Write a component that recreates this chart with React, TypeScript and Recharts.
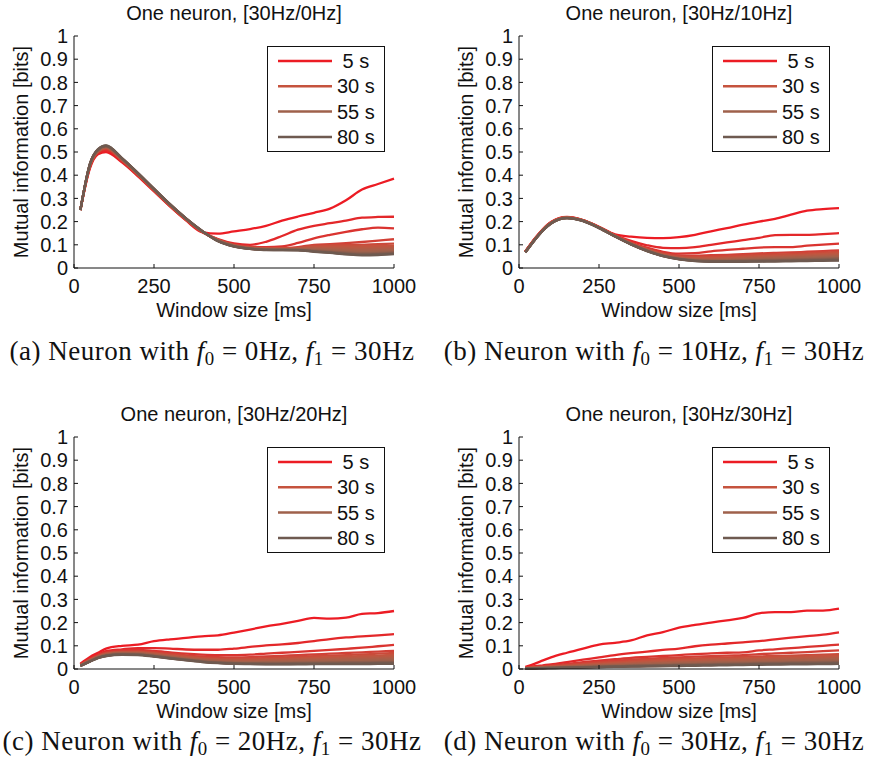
// Four panels of mutual information vs. window size, one line per recording duration.
// MATLAB-style axes (left/bottom only, inward ticks), boxed legend in the top-right corner.

import { Label, Legend, Line, LineChart, XAxis, YAxis } from "recharts";

const windowMs = [20, 50, 75, 100, 150, 200, 250, 300, 350, 400, 450, 500, 550, 600, 650, 700, 750, 800, 850, 900, 950, 1000];
const durations = [5, 10, 15, 20, 25, 30, 35, 40, 45, 50, 55, 60, 65, 70, 75, 80];
const durationColors = [
  "#ec1c24", "#e3282a", "#da3430", "#d24036", "#cb4a3a", "#c5533e", "#bc5842", "#b45b45",
  "#ac5e48", "#a5604a", "#9f614b", "#935f4d", "#885d4e", "#7e5c4f", "#765b50", "#6e5a50",
];
const legendIdx = [0, 5, 10, 15];
const legendLabels = [" 5 s", "30 s", "55 s", "80 s"];
const yTicks = [0, 0.1, 0.2, 0.3, 0.4, 0.5, 0.6, 0.7, 0.8, 0.9, 1];
const xTicks = [0, 250, 500, 750, 1000];
const f0Values = [0, 10, 20, 30];
const f1Value = 30;
const captionLetters = ["a", "b", "c", "d"];

// f0 = 0Hz
const miF0_0 = [
  [0.25, 0.43, 0.49, 0.5, 0.455, 0.395, 0.33, 0.265, 0.205, 0.155, 0.148, 0.158, 0.168, 0.182, 0.204, 0.222, 0.238, 0.256, 0.292, 0.338, 0.362, 0.385],
  [0.25, 0.435, 0.495, 0.508, 0.46, 0.398, 0.333, 0.267, 0.207, 0.155, 0.125, 0.106, 0.1, 0.113, 0.138, 0.165, 0.182, 0.193, 0.204, 0.217, 0.22, 0.221],
  [0.25, 0.438, 0.498, 0.512, 0.462, 0.4, 0.334, 0.268, 0.208, 0.156, 0.123, 0.102, 0.092, 0.09, 0.093, 0.108, 0.128, 0.143, 0.156, 0.167, 0.174, 0.171],
  [0.25, 0.44, 0.5, 0.515, 0.464, 0.401, 0.335, 0.269, 0.209, 0.156, 0.122, 0.1, 0.09, 0.086, 0.086, 0.09, 0.1, 0.103, 0.107, 0.112, 0.118, 0.124],
  [0.25, 0.441, 0.501, 0.517, 0.465, 0.402, 0.336, 0.27, 0.21, 0.157, 0.121, 0.099, 0.089, 0.085, 0.084, 0.087, 0.096, 0.098, 0.099, 0.1, 0.103, 0.105],
  [0.25, 0.442, 0.502, 0.518, 0.466, 0.403, 0.337, 0.27, 0.21, 0.157, 0.12, 0.098, 0.088, 0.084, 0.083, 0.085, 0.092, 0.093, 0.093, 0.094, 0.094, 0.095],
  [0.25, 0.443, 0.503, 0.519, 0.467, 0.404, 0.337, 0.271, 0.211, 0.158, 0.12, 0.097, 0.087, 0.083, 0.082, 0.084, 0.088, 0.088, 0.088, 0.088, 0.088, 0.089],
  [0.25, 0.444, 0.504, 0.52, 0.468, 0.405, 0.338, 0.271, 0.211, 0.158, 0.119, 0.096, 0.086, 0.082, 0.081, 0.082, 0.085, 0.084, 0.083, 0.082, 0.083, 0.084],
  [0.25, 0.445, 0.505, 0.521, 0.469, 0.406, 0.338, 0.272, 0.212, 0.158, 0.119, 0.096, 0.085, 0.081, 0.08, 0.081, 0.082, 0.08, 0.078, 0.077, 0.078, 0.079],
  [0.25, 0.446, 0.506, 0.522, 0.47, 0.406, 0.339, 0.272, 0.212, 0.159, 0.118, 0.095, 0.085, 0.08, 0.08, 0.08, 0.079, 0.077, 0.074, 0.072, 0.073, 0.075],
  [0.25, 0.447, 0.507, 0.523, 0.47, 0.407, 0.339, 0.273, 0.213, 0.159, 0.118, 0.095, 0.084, 0.08, 0.079, 0.079, 0.077, 0.074, 0.07, 0.068, 0.069, 0.071],
  [0.25, 0.448, 0.508, 0.524, 0.471, 0.407, 0.34, 0.273, 0.213, 0.159, 0.117, 0.094, 0.084, 0.079, 0.079, 0.078, 0.075, 0.071, 0.067, 0.064, 0.065, 0.068],
  [0.25, 0.449, 0.509, 0.525, 0.472, 0.408, 0.34, 0.274, 0.213, 0.16, 0.117, 0.094, 0.083, 0.079, 0.078, 0.078, 0.073, 0.069, 0.064, 0.061, 0.062, 0.065],
  [0.25, 0.45, 0.51, 0.526, 0.472, 0.408, 0.341, 0.274, 0.214, 0.16, 0.116, 0.093, 0.083, 0.078, 0.078, 0.077, 0.072, 0.067, 0.062, 0.059, 0.06, 0.063],
  [0.25, 0.45, 0.511, 0.527, 0.473, 0.409, 0.341, 0.275, 0.214, 0.16, 0.116, 0.093, 0.082, 0.078, 0.077, 0.077, 0.071, 0.066, 0.06, 0.057, 0.058, 0.061],
  [0.25, 0.45, 0.512, 0.528, 0.474, 0.409, 0.342, 0.275, 0.214, 0.161, 0.115, 0.092, 0.082, 0.077, 0.077, 0.076, 0.07, 0.065, 0.059, 0.055, 0.056, 0.06],
];

// f0 = 10Hz
const miF0_10 = [
  [0.072, 0.128, 0.168, 0.198, 0.22, 0.207, 0.178, 0.145, 0.135, 0.13, 0.129, 0.133, 0.143, 0.158, 0.172, 0.187, 0.2, 0.212, 0.23, 0.247, 0.254, 0.258],
  [0.071, 0.127, 0.167, 0.197, 0.219, 0.206, 0.177, 0.142, 0.117, 0.098, 0.087, 0.086, 0.09, 0.1, 0.11, 0.12, 0.13, 0.142, 0.143, 0.143, 0.146, 0.15],
  [0.071, 0.126, 0.166, 0.196, 0.218, 0.205, 0.176, 0.141, 0.11, 0.088, 0.07, 0.062, 0.064, 0.072, 0.078, 0.083, 0.088, 0.09, 0.09, 0.096, 0.101, 0.105],
  [0.07, 0.126, 0.166, 0.196, 0.218, 0.205, 0.175, 0.14, 0.108, 0.083, 0.064, 0.054, 0.053, 0.055, 0.057, 0.06, 0.063, 0.065, 0.067, 0.07, 0.073, 0.076],
  [0.07, 0.125, 0.165, 0.195, 0.218, 0.205, 0.175, 0.14, 0.107, 0.081, 0.061, 0.05, 0.047, 0.048, 0.05, 0.053, 0.056, 0.058, 0.06, 0.063, 0.066, 0.07],
  [0.07, 0.125, 0.165, 0.195, 0.218, 0.205, 0.175, 0.139, 0.106, 0.079, 0.059, 0.047, 0.043, 0.043, 0.045, 0.048, 0.051, 0.053, 0.055, 0.058, 0.061, 0.064],
  [0.07, 0.125, 0.165, 0.195, 0.217, 0.205, 0.175, 0.139, 0.105, 0.078, 0.057, 0.045, 0.04, 0.04, 0.042, 0.044, 0.047, 0.049, 0.051, 0.054, 0.056, 0.059],
  [0.069, 0.124, 0.164, 0.194, 0.217, 0.204, 0.174, 0.138, 0.105, 0.077, 0.056, 0.043, 0.038, 0.037, 0.039, 0.041, 0.044, 0.046, 0.048, 0.05, 0.052, 0.055],
  [0.069, 0.124, 0.164, 0.194, 0.217, 0.204, 0.174, 0.138, 0.104, 0.076, 0.055, 0.042, 0.036, 0.035, 0.036, 0.038, 0.041, 0.043, 0.045, 0.047, 0.049, 0.051],
  [0.069, 0.124, 0.164, 0.194, 0.216, 0.204, 0.174, 0.138, 0.104, 0.076, 0.054, 0.041, 0.035, 0.033, 0.034, 0.036, 0.038, 0.04, 0.042, 0.044, 0.046, 0.048],
  [0.069, 0.123, 0.163, 0.193, 0.216, 0.204, 0.174, 0.137, 0.103, 0.075, 0.053, 0.04, 0.034, 0.032, 0.032, 0.034, 0.036, 0.038, 0.039, 0.041, 0.043, 0.045],
  [0.068, 0.123, 0.163, 0.193, 0.216, 0.203, 0.173, 0.137, 0.103, 0.075, 0.053, 0.039, 0.033, 0.031, 0.031, 0.032, 0.034, 0.035, 0.037, 0.038, 0.04, 0.042],
  [0.068, 0.123, 0.163, 0.193, 0.215, 0.203, 0.173, 0.137, 0.103, 0.074, 0.052, 0.039, 0.032, 0.03, 0.03, 0.031, 0.032, 0.033, 0.034, 0.036, 0.037, 0.039],
  [0.068, 0.122, 0.162, 0.192, 0.215, 0.203, 0.173, 0.136, 0.102, 0.074, 0.052, 0.038, 0.031, 0.029, 0.029, 0.029, 0.03, 0.031, 0.032, 0.034, 0.035, 0.036],
  [0.068, 0.122, 0.162, 0.192, 0.215, 0.203, 0.173, 0.136, 0.102, 0.074, 0.051, 0.038, 0.031, 0.028, 0.028, 0.028, 0.029, 0.03, 0.031, 0.032, 0.033, 0.034],
  [0.067, 0.122, 0.162, 0.192, 0.215, 0.202, 0.172, 0.136, 0.102, 0.073, 0.051, 0.037, 0.03, 0.027, 0.027, 0.027, 0.028, 0.028, 0.029, 0.03, 0.031, 0.032],
];

// f0 = 20Hz
const miF0_20 = [
  [0.023, 0.052, 0.07, 0.088, 0.1, 0.105, 0.12, 0.128, 0.134, 0.141, 0.145, 0.157, 0.17, 0.184, 0.195, 0.207, 0.22, 0.217, 0.221, 0.238, 0.241, 0.25],
  [0.02, 0.045, 0.062, 0.077, 0.085, 0.09, 0.09, 0.088, 0.084, 0.083, 0.083, 0.088, 0.095, 0.102, 0.106, 0.112, 0.12, 0.129, 0.136, 0.141, 0.145, 0.15],
  [0.019, 0.043, 0.059, 0.072, 0.08, 0.082, 0.078, 0.072, 0.066, 0.062, 0.06, 0.06, 0.062, 0.066, 0.07, 0.074, 0.078, 0.082, 0.087, 0.092, 0.098, 0.104],
  [0.018, 0.041, 0.057, 0.069, 0.076, 0.077, 0.073, 0.066, 0.059, 0.054, 0.051, 0.05, 0.051, 0.054, 0.057, 0.06, 0.063, 0.066, 0.069, 0.072, 0.075, 0.078],
  [0.017, 0.04, 0.056, 0.067, 0.074, 0.074, 0.069, 0.062, 0.055, 0.049, 0.046, 0.045, 0.045, 0.047, 0.05, 0.052, 0.055, 0.058, 0.06, 0.063, 0.066, 0.069],
  [0.017, 0.039, 0.055, 0.066, 0.072, 0.072, 0.067, 0.059, 0.052, 0.046, 0.042, 0.04, 0.04, 0.042, 0.044, 0.046, 0.049, 0.051, 0.053, 0.056, 0.058, 0.061],
  [0.016, 0.038, 0.054, 0.064, 0.07, 0.07, 0.065, 0.057, 0.049, 0.043, 0.039, 0.037, 0.037, 0.038, 0.04, 0.042, 0.044, 0.046, 0.048, 0.05, 0.052, 0.055],
  [0.016, 0.037, 0.053, 0.063, 0.069, 0.068, 0.063, 0.055, 0.047, 0.041, 0.036, 0.034, 0.034, 0.035, 0.036, 0.038, 0.04, 0.042, 0.043, 0.045, 0.047, 0.049],
  [0.015, 0.036, 0.052, 0.062, 0.068, 0.067, 0.061, 0.053, 0.045, 0.039, 0.034, 0.032, 0.031, 0.032, 0.033, 0.035, 0.036, 0.038, 0.039, 0.041, 0.042, 0.044],
  [0.015, 0.035, 0.051, 0.061, 0.067, 0.066, 0.06, 0.052, 0.044, 0.037, 0.032, 0.03, 0.029, 0.03, 0.031, 0.032, 0.033, 0.034, 0.035, 0.037, 0.038, 0.04],
  [0.015, 0.035, 0.05, 0.06, 0.066, 0.065, 0.058, 0.05, 0.042, 0.035, 0.031, 0.028, 0.027, 0.028, 0.028, 0.029, 0.03, 0.031, 0.032, 0.033, 0.034, 0.036],
  [0.014, 0.034, 0.049, 0.059, 0.065, 0.064, 0.057, 0.049, 0.041, 0.034, 0.029, 0.026, 0.025, 0.026, 0.026, 0.027, 0.028, 0.028, 0.029, 0.03, 0.031, 0.032],
  [0.014, 0.033, 0.049, 0.058, 0.064, 0.063, 0.056, 0.048, 0.04, 0.033, 0.028, 0.025, 0.024, 0.024, 0.024, 0.025, 0.025, 0.026, 0.027, 0.027, 0.028, 0.029],
  [0.014, 0.033, 0.048, 0.057, 0.063, 0.062, 0.055, 0.047, 0.039, 0.032, 0.027, 0.024, 0.023, 0.022, 0.023, 0.023, 0.024, 0.024, 0.025, 0.025, 0.026, 0.026],
  [0.013, 0.032, 0.048, 0.056, 0.062, 0.061, 0.054, 0.046, 0.038, 0.031, 0.026, 0.023, 0.022, 0.021, 0.021, 0.022, 0.022, 0.022, 0.023, 0.023, 0.024, 0.024],
  [0.013, 0.032, 0.047, 0.056, 0.061, 0.06, 0.053, 0.045, 0.037, 0.03, 0.025, 0.022, 0.021, 0.02, 0.02, 0.02, 0.021, 0.021, 0.021, 0.021, 0.022, 0.022],
];

// f0 = 30Hz
const miF0_30 = [
  [0.009, 0.023, 0.037, 0.05, 0.07, 0.088, 0.105, 0.113, 0.123, 0.145, 0.159, 0.178, 0.19, 0.2, 0.21, 0.22, 0.24, 0.245, 0.245, 0.252, 0.252, 0.26],
  [0.006, 0.012, 0.016, 0.02, 0.03, 0.04, 0.05, 0.06, 0.068, 0.075, 0.082, 0.088, 0.098, 0.105, 0.11, 0.115, 0.12, 0.128, 0.135, 0.142, 0.148, 0.158],
  [0.005, 0.009, 0.012, 0.015, 0.022, 0.03, 0.036, 0.042, 0.048, 0.052, 0.056, 0.06, 0.064, 0.067, 0.07, 0.072, 0.08, 0.085, 0.09, 0.095, 0.1, 0.105],
  [0.005, 0.008, 0.01, 0.013, 0.019, 0.025, 0.03, 0.035, 0.04, 0.044, 0.047, 0.05, 0.053, 0.055, 0.058, 0.06, 0.064, 0.067, 0.07, 0.073, 0.077, 0.08],
  [0.004, 0.007, 0.009, 0.011, 0.016, 0.021, 0.026, 0.03, 0.034, 0.038, 0.041, 0.044, 0.046, 0.048, 0.05, 0.052, 0.054, 0.056, 0.058, 0.06, 0.062, 0.064],
  [0.004, 0.006, 0.008, 0.01, 0.014, 0.018, 0.022, 0.026, 0.03, 0.033, 0.036, 0.038, 0.04, 0.042, 0.044, 0.046, 0.048, 0.05, 0.052, 0.054, 0.056, 0.058],
  [0.004, 0.006, 0.007, 0.009, 0.012, 0.016, 0.02, 0.023, 0.026, 0.029, 0.032, 0.034, 0.036, 0.038, 0.04, 0.041, 0.043, 0.045, 0.047, 0.049, 0.05, 0.052],
  [0.003, 0.005, 0.007, 0.008, 0.011, 0.014, 0.017, 0.02, 0.023, 0.026, 0.028, 0.03, 0.032, 0.034, 0.036, 0.037, 0.039, 0.04, 0.042, 0.044, 0.045, 0.047],
  [0.003, 0.005, 0.006, 0.007, 0.01, 0.013, 0.015, 0.018, 0.021, 0.023, 0.025, 0.027, 0.029, 0.031, 0.032, 0.033, 0.035, 0.036, 0.038, 0.039, 0.041, 0.043],
  [0.003, 0.004, 0.006, 0.007, 0.009, 0.011, 0.014, 0.016, 0.018, 0.021, 0.023, 0.024, 0.026, 0.028, 0.029, 0.03, 0.032, 0.033, 0.034, 0.036, 0.037, 0.039],
  [0.003, 0.004, 0.005, 0.006, 0.008, 0.01, 0.012, 0.014, 0.016, 0.018, 0.02, 0.022, 0.023, 0.025, 0.026, 0.027, 0.029, 0.03, 0.031, 0.032, 0.034, 0.035],
  [0.002, 0.004, 0.005, 0.006, 0.007, 0.009, 0.011, 0.013, 0.015, 0.016, 0.018, 0.02, 0.021, 0.022, 0.024, 0.025, 0.026, 0.027, 0.028, 0.029, 0.031, 0.032],
  [0.002, 0.003, 0.004, 0.005, 0.007, 0.008, 0.01, 0.012, 0.013, 0.015, 0.016, 0.018, 0.019, 0.02, 0.021, 0.022, 0.024, 0.025, 0.026, 0.027, 0.028, 0.029],
  [0.002, 0.003, 0.004, 0.005, 0.006, 0.008, 0.009, 0.011, 0.012, 0.013, 0.015, 0.016, 0.017, 0.018, 0.019, 0.02, 0.022, 0.023, 0.024, 0.024, 0.025, 0.026],
  [0.002, 0.003, 0.004, 0.004, 0.006, 0.007, 0.008, 0.01, 0.011, 0.012, 0.013, 0.015, 0.016, 0.017, 0.018, 0.019, 0.02, 0.021, 0.022, 0.022, 0.023, 0.024],
  [0.002, 0.003, 0.003, 0.004, 0.005, 0.006, 0.008, 0.009, 0.01, 0.011, 0.012, 0.013, 0.014, 0.015, 0.016, 0.017, 0.018, 0.019, 0.02, 0.02, 0.021, 0.022],
];

const panelSeries = [miF0_0, miF0_10, miF0_20, miF0_30];

// layout (page px)
const SANS = '"Liberation Sans", Arial, Helvetica, sans-serif';
const SERIF = '"Liberation Serif", "Times New Roman", serif';
const INK = "#111";
const CHART_W = 435;
const CHART_H = 335;
const PLOT_TOP = 36;
const PLOT_W = 320;
const PLOT_H = 232;
const panelLeft = [0, 435, 0, 435];
const panelTop = [0, 0, 401, 401];
const panelAxisW = [74, 84, 74, 84];

function toRows(series: number[][]) {
  return windowMs.map((ms, i) => {
    const row: Record<string, number> = { ms };
    series.forEach((s, k) => { row["d" + durations[k]] = s[i]; });
    return row;
  });
}

function LegendBox() {
  return (
    <svg width={118} height={106} style={{ display: "block" }}>
      <rect x={0.5} y={0.5} width={117} height={105} fill="#fff" stroke={INK} />
      {legendIdx.map((k, i) => {
        const cy = 15 + i * 25.3;
        return (
          <g key={k}>
            <line x1={11} x2={65} y1={cy} y2={cy} stroke={durationColors[k]} strokeWidth={2.5} />
            <text x={70} y={cy + 7} fill={INK} fontFamily={SANS} fontSize={20} style={{ whiteSpace: "pre" }}>
              {legendLabels[i]}
            </text>
          </g>
        );
      })}
    </svg>
  );
}

function Panel({ idx }: { idx: number }) {
  const axisW = panelAxisW[idx];
  const plotBottom = PLOT_TOP + PLOT_H;
  const rows = toRows(panelSeries[idx]);

  const yTick = (p: any) => (
    <g>
      <line x1={axisW} x2={axisW + 4} y1={p.y} y2={p.y} stroke={INK} />
      <text x={axisW - 6} y={p.y} dy="0.355em" textAnchor="end" fill={INK} fontFamily={SANS} fontSize={20}>
        {String(p.payload.value)}
      </text>
    </g>
  );
  const xTick = (p: any) => (
    <g>
      <line x1={p.x} x2={p.x} y1={plotBottom} y2={plotBottom - 4} stroke={INK} />
      <text x={p.x} y={plotBottom + 11} dy="0.71em" textAnchor="middle" fill={INK} fontFamily={SANS} fontSize={20}>
        {String(p.payload.value)}
      </text>
    </g>
  );

  return (
    <div style={{ position: "absolute", left: panelLeft[idx], top: panelTop[idx], width: CHART_W, height: CHART_H }}>
      <div style={{
        position: "absolute", left: axisW, top: 3, width: PLOT_W, textAlign: "center",
        fontFamily: SANS, fontSize: 20, lineHeight: "20px", color: INK, whiteSpace: "nowrap",
      }}>
        {`One neuron, [${f1Value}Hz/${f0Values[idx]}Hz]`}
      </div>
      <LineChart width={CHART_W} height={CHART_H} data={rows}
                 margin={{ top: PLOT_TOP, right: CHART_W - axisW - PLOT_W, bottom: 0, left: 0 }}>
        <XAxis dataKey="ms" type="number" domain={[0, 1000]} ticks={xTicks} interval={0}
               height={CHART_H - PLOT_TOP - PLOT_H} tick={xTick} tickLine={false}
               axisLine={{ stroke: INK }}>
          <Label value="Window size [ms]" position="insideBottom" offset={18}
                 fill={INK} style={{ fontFamily: SANS, fontSize: 20 }} />
        </XAxis>
        <YAxis type="number" domain={[0, 1]} ticks={yTicks} interval={0} width={axisW}
               tick={yTick} tickLine={false} axisLine={{ stroke: INK }}>
          <Label value="Mutual information [bits]" angle={-90} position="insideLeft" offset={axisW - 53}
                 fill={INK} style={{ fontFamily: SANS, fontSize: 20, textAnchor: "middle" }} />
        </YAxis>
        <Legend layout="horizontal" verticalAlign="middle" align="center" content={() => <LegendBox />}
                wrapperStyle={{ left: axisW + PLOT_W - 9 - 118, top: PLOT_TOP + 10, width: 118, height: 106 }} />
        {durations.map((d, k) => (
          <Line key={d} type="monotone" dataKey={"d" + d} name={`${d} s`} stroke={durationColors[k]}
                strokeWidth={2.3} dot={false} activeDot={false} isAnimationActive={false} />
        ))}
      </LineChart>
    </div>
  );
}

function Caption({ idx }: { idx: number }) {
  const centerX = idx % 2 === 0 ? 212 : 654;
  const top = idx < 2 ? 336 : 726;
  const sub = { fontSize: "0.7em", verticalAlign: "-0.25em", lineHeight: 0 } as const;
  return (
    <div style={{
      position: "absolute", left: centerX - 240, top, width: 480, textAlign: "center",
      fontFamily: SERIF, fontSize: 27, lineHeight: "30px", letterSpacing: "0.5px", color: "#111", whiteSpace: "nowrap",
    }}>
      ({captionLetters[idx]}) Neuron with <i>f</i><span style={sub}>0</span> = {f0Values[idx]}Hz,{" "}
      <i>f</i><span style={sub}>1</span> = {f1Value}Hz
    </div>
  );
}

export default function App() {
  return (
    <div style={{ position: "absolute", left: 0, top: 0, width: 871, height: 770, background: "#fff", overflow: "hidden" }}>
      {[0, 1, 2, 3].map((i) => <Panel key={i} idx={i} />)}
      {[0, 1, 2, 3].map((i) => <Caption key={i} idx={i} />)}
    </div>
  );
}
